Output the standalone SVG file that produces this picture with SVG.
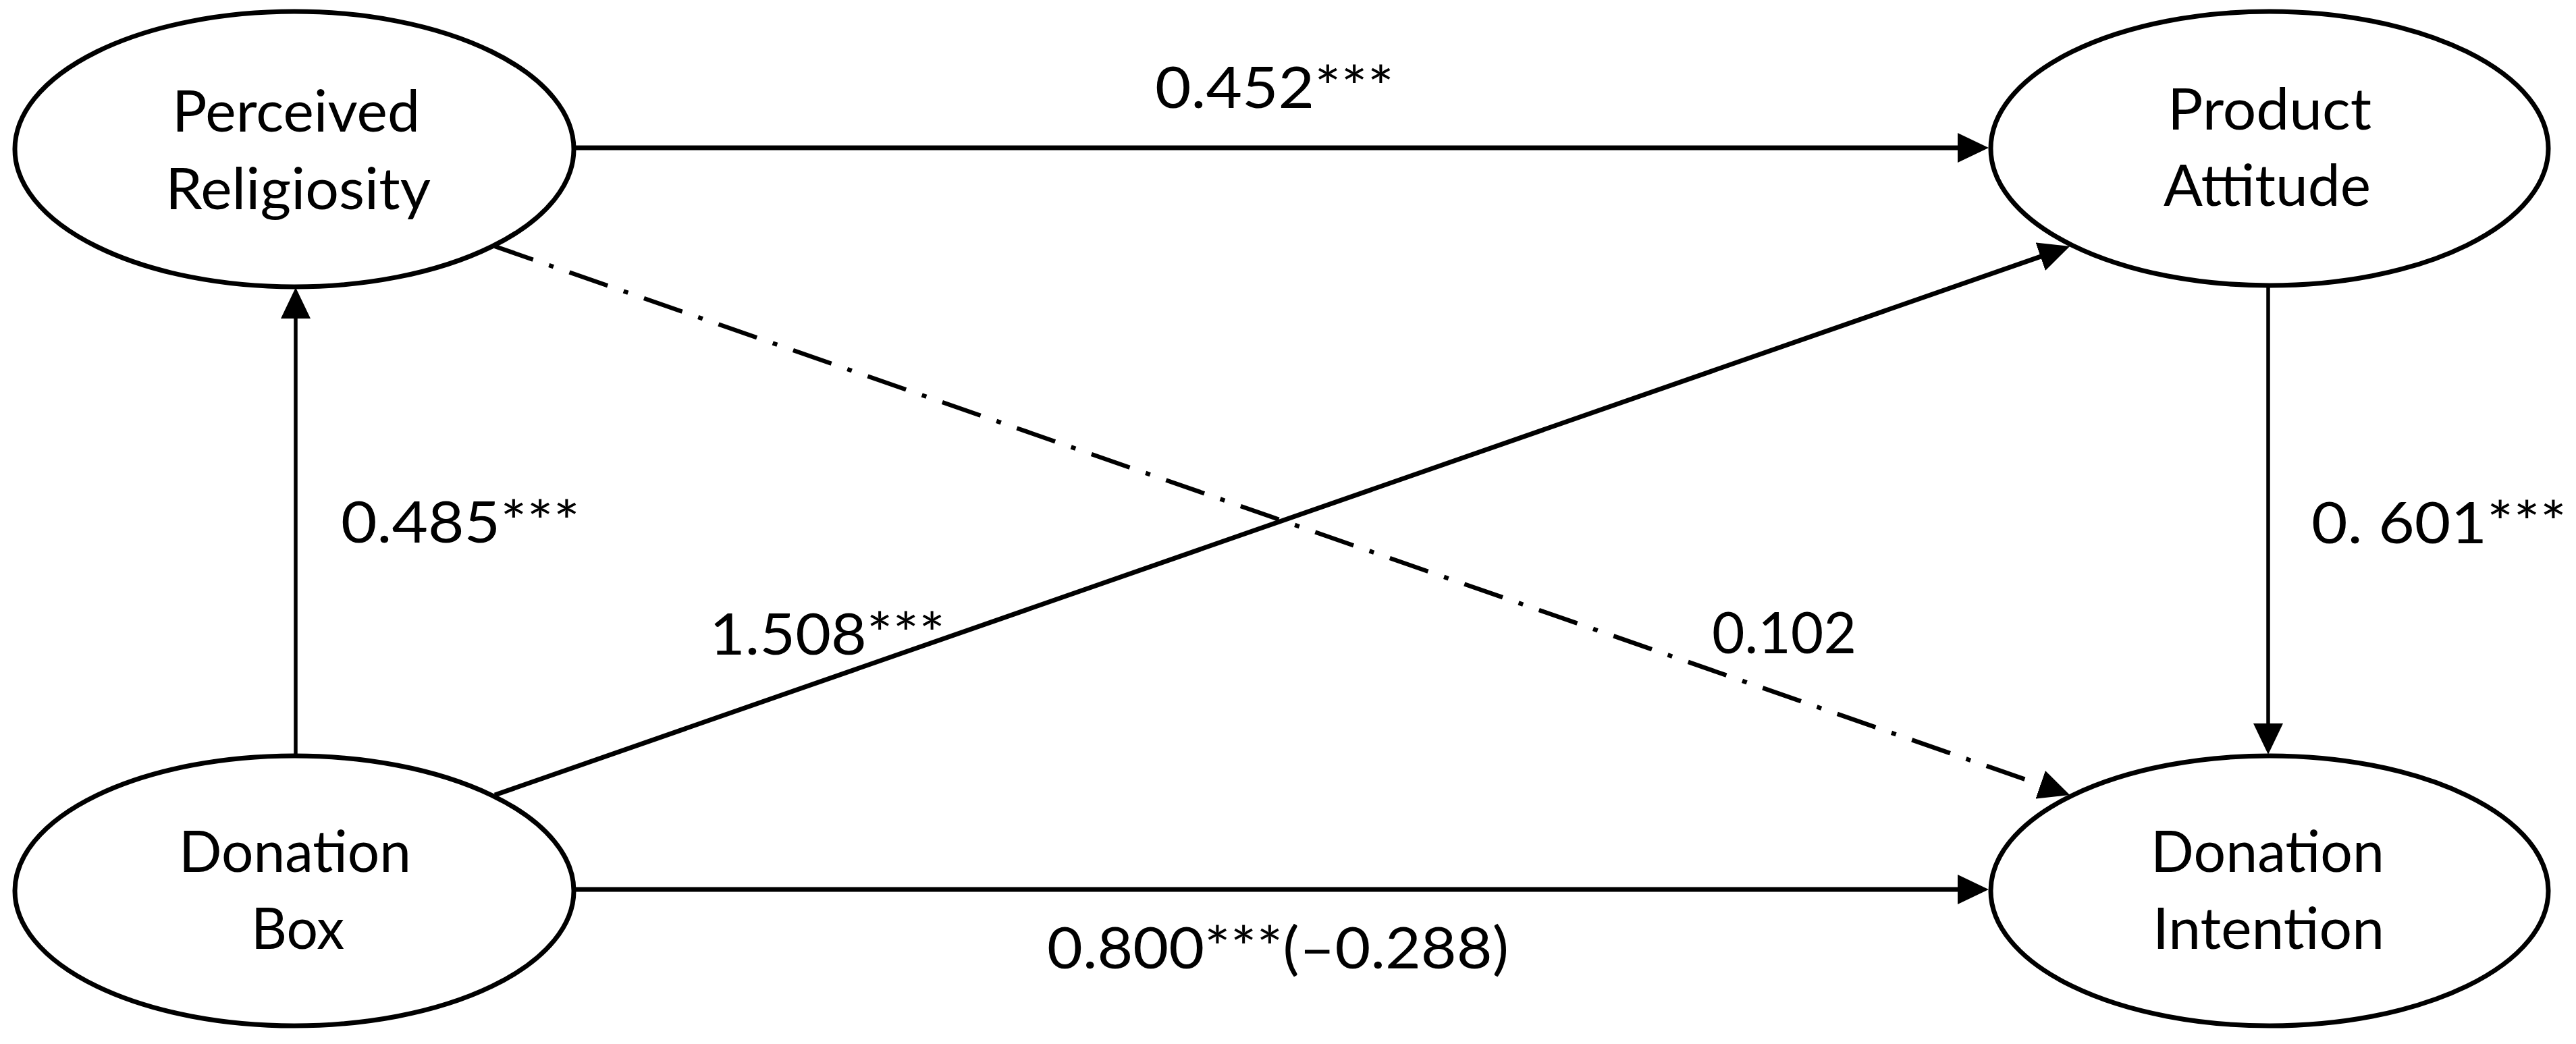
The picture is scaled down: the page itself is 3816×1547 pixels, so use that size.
<svg xmlns="http://www.w3.org/2000/svg" width="3816" height="1547" viewBox="0 0 3816 1547">
<style>
.node ellipse{fill:#fff;stroke:#000;stroke-width:7}
text{font-family:Lato,"Liberation Sans",sans-serif;font-size:86px;fill:#000}
.c line{stroke:#000;fill:none}
.h{stroke-width:7}
.v{stroke-width:5.5}
.d{stroke-width:7}
.dd{stroke-width:6.5;stroke-dasharray:60 25 7 25}
</style>
<defs>
<marker id="ah" markerUnits="userSpaceOnUse" markerWidth="46" markerHeight="44" refX="31" refY="22" orient="auto" viewBox="0 0 46 44">
<path d="M0,0 L46,22 L0,44 z" fill="#000"/>
</marker>
</defs>
<rect width="3816" height="1547" fill="#fff"/>
<g id="connectors" class="c">
<line class="h" x1="851" y1="219" x2="2931" y2="219" marker-end="url(#ah)"/>
<line class="h" x1="851" y1="1318" x2="2931" y2="1318" marker-end="url(#ah)"/>
<line class="v" x1="438" y1="1120" x2="438" y2="441" marker-end="url(#ah)"/>
<line class="v" x1="3360" y1="424" x2="3360" y2="1103" marker-end="url(#ah)"/>
<line class="d" x1="733" y1="1178" x2="3052" y2="370" marker-end="url(#ah)"/>
<line class="dd" x1="733" y1="365" x2="3052" y2="1173" marker-end="url(#ah)"/>
</g>
<g id="node-perceived-religiosity" class="node">
<ellipse cx="436" cy="221" rx="414" ry="204"/>
<text x="255" y="195" textLength="367" lengthAdjust="spacingAndGlyphs">Perceived</text>
<text x="245" y="310" textLength="393" lengthAdjust="spacingAndGlyphs">Religiosity</text>
</g>
<g id="node-product-attitude" class="node">
<ellipse cx="3362" cy="220" rx="413" ry="203"/>
<text x="3211" y="192" textLength="302" lengthAdjust="spacingAndGlyphs">Product</text>
<text x="3205" y="305" textLength="307" lengthAdjust="spacingAndGlyphs">Attitude</text>
</g>
<g id="node-donation-box" class="node">
<ellipse cx="436" cy="1320" rx="414" ry="200"/>
<text x="265" y="1292" textLength="344" lengthAdjust="spacingAndGlyphs">Donation</text>
<text x="372" y="1406" textLength="138" lengthAdjust="spacingAndGlyphs">Box</text>
</g>
<g id="node-donation-intention" class="node">
<ellipse cx="3362" cy="1320" rx="413" ry="200"/>
<text x="3186" y="1292" textLength="346" lengthAdjust="spacingAndGlyphs">Donation</text>
<text x="3189" y="1406" textLength="343" lengthAdjust="spacingAndGlyphs">Intention</text>
</g>
<g id="labels">
<text x="1711" y="160" textLength="354" lengthAdjust="spacingAndGlyphs">0.452***</text>
<text x="505" y="804" textLength="354" lengthAdjust="spacingAndGlyphs">0.485***</text>
<text x="1051" y="970" textLength="349" lengthAdjust="spacingAndGlyphs">1.508***</text>
<text x="2536" y="968" textLength="214" lengthAdjust="spacingAndGlyphs">0.102</text>
<text x="3424" y="805" textLength="378" lengthAdjust="spacingAndGlyphs">0. 601***</text>
<text x="1551" y="1435" textLength="684" lengthAdjust="spacingAndGlyphs">0.800***(–0.288)</text>
</g>
</svg>
